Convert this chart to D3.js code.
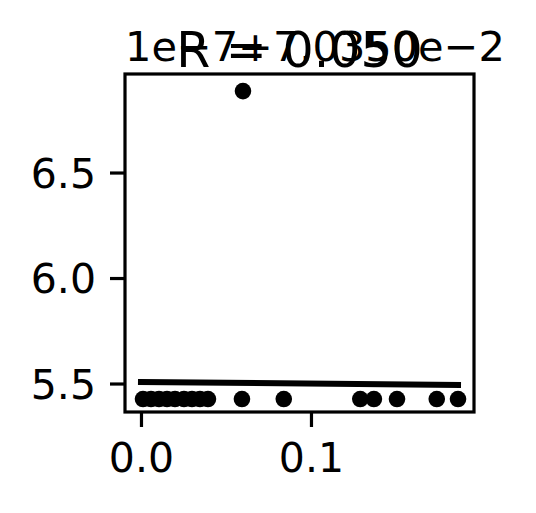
<!DOCTYPE html>
<html>
<head>
<meta charset="utf-8">
<script src="https://cdn.jsdelivr.net/npm/d3@7"></script>
<style>
  html, body { margin: 0; padding: 0; background: #fff; }
  svg { display: block; }
  text { font-family: "DejaVu Sans", sans-serif; fill: #000; }
</style>
</head>
<body>
<svg id="chart" width="536" height="513"></svg>
<script>
// ---- data (y values in units of 1e-7, offset 7.0350e-2) ----
const pointX = [0.0012, 0.0059, 0.0106, 0.0153, 0.0200, 0.0253, 0.0300, 0.0347, 0.0394,
                0.0594, 0.0600, 0.0840, 0.1290, 0.1370, 0.1506, 0.1740, 0.1865];
const pointY = [5.4265, 5.4265, 5.4265, 5.4265, 5.4265, 5.4265, 5.4265, 5.4265, 5.4265,
                5.4265, 6.886, 5.4265, 5.4265, 5.4265, 5.4265, 5.4265, 5.4265];
const fitX = [0.0, 0.1865];
const fitY = [5.507, 5.493];
const xTicks = [0.0, 0.1];
const yTicks = [5.5, 6.0, 6.5];
const titleText = "R = 0.050";
const offsetText = "1e\u22127+7.0350e\u22122";

(function () {
// ---- layout ----
const mLeft = 125, mRight = 474, mTop = 74, mBottom = 412;
const svg = d3.select("#chart");

const x = d3.scaleLinear().domain([-0.0094, 0.1959]).range([mLeft, mRight]);
const y = d3.scaleLinear().domain([5.365, 6.967]).range([mBottom, mTop]);

// fit line
svg.append("path")
  .datum(fitX.map((d, i) => [d, fitY[i]]))
  .attr("d", d3.line().x(d => x(d[0])).y(d => y(d[1])))
  .attr("fill", "none")
  .attr("stroke", "#000")
  .attr("stroke-width", 6)
  .attr("stroke-linecap", "square");

// points
svg.append("g").selectAll("circle")
  .data(pointX.map((d, i) => [d, pointY[i]]))
  .join("circle")
  .attr("cx", d => x(d[0]))
  .attr("cy", d => y(d[1]))
  .attr("r", 8.3)
  .attr("fill", "#000");

// axes
const fmt1 = d3.format(".1f");
const yAxis = svg.append("g")
  .attr("transform", `translate(${mLeft},0)`)
  .call(d3.axisLeft(y).tickValues(yTicks).tickFormat(fmt1).tickSize(15).tickPadding(14));
const xAxis = svg.append("g")
  .attr("transform", `translate(0,${mBottom})`)
  .call(d3.axisBottom(x).tickValues(xTicks).tickFormat(fmt1).tickSize(15).tickPadding(14));

[yAxis, xAxis].forEach(g => {
  g.select(".domain").remove();
  g.selectAll(".tick line").attr("stroke", "#000").attr("stroke-width", 3.2);
  g.selectAll(".tick text")
    .attr("font-family", "DejaVu Sans")
    .attr("font-size", 41)
    .attr("fill", "#000");
});
xAxis.selectAll(".tick text").attr("dy", "0.76em");
yAxis.selectAll(".tick text").attr("dy", "0.36em");

// frame
svg.append("rect")
  .attr("x", mLeft).attr("y", mTop)
  .attr("width", mRight - mLeft).attr("height", mBottom - mTop)
  .attr("fill", "none")
  .attr("stroke", "#000")
  .attr("stroke-width", 3.2);

// offset text
svg.append("text")
  .attr("x", mLeft)
  .attr("y", 61)
  .attr("font-size", 41.5)
  .text(offsetText);

// title
svg.append("text")
  .attr("x", (mLeft + mRight) / 2)
  .attr("y", 67)
  .attr("text-anchor", "middle")
  .attr("font-size", 49)
  .text(titleText);
})();
</script>
</body>
</html>
